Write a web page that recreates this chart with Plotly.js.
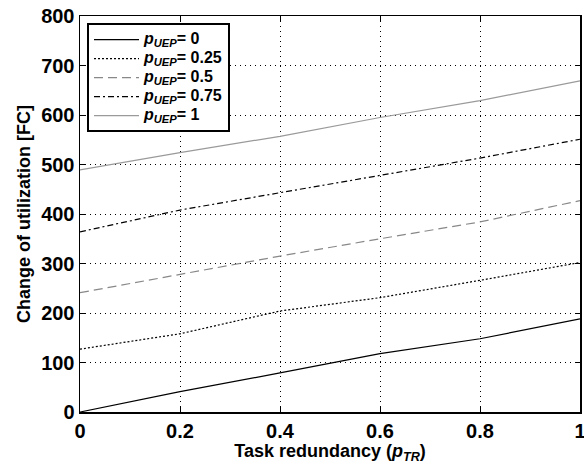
<!DOCTYPE html>
<html>
<head>
<meta charset="utf-8">
<script src="https://cdn.plot.ly/plotly-3.0.1.min.js"></script>
<style>html,body{margin:0;padding:0;background:#fff;}#chart{width:584px;height:471px;}</style>
</head>
<body>
<div id="chart"></div>
<script>
var taskRedundancy = [0, 0.2, 0.4, 0.6, 0.8, 1];
var pUEP0   = [0, 41, 79, 118, 148, 188];
var pUEP025 = [127, 158, 204, 231, 266, 302];
var pUEP05  = [241, 278, 315, 350, 384, 427];
var pUEP075 = [364, 408, 443, 478, 513, 551];
var pUEP1   = [489, 524, 557, 595, 629, 669];
var seriesNames = ['0', '0.25', '0.5', '0.75', '1'];
var seriesValues = [pUEP0, pUEP025, pUEP05, pUEP075, pUEP1];
var xTickLabels = ['0', '0.2', '0.4', '0.6', '0.8', '1'];
var yTickValues = [0, 100, 200, 300, 400, 500, 600, 700, 800];
var seriesColors = ['#000000', '#000000', '#888888', '#000000', '#9a9a9a'];
var seriesDash = ['solid', '2px,2px', '9px,5px', '6px,3px,2px,3px', 'solid'];

var FONT = 'Liberation Sans, Arial, sans-serif';

var traces = seriesValues.map(function (vals, i) {
  return {
    x: taskRedundancy,
    y: vals,
    type: 'scatter',
    mode: 'lines',
    name: '<span style="font-size:16px"><b><i>p</i><sub><i>UEP</i></sub>= ' + seriesNames[i] + '</b></span>',
    line: {color: seriesColors[i], width: 1.2, dash: seriesDash[i]}
  };
});

var axisCommon = {
  showline: true, linecolor: '#000', linewidth: 1.5, mirror: 'ticks',
  ticks: 'inside', ticklen: 5, tickcolor: '#000', tickwidth: 1,
  showgrid: true, gridcolor: '#000', gridwidth: 1, griddash: '1px,4px',
  zeroline: false, ticklabeloverflow: 'allow',
  tickfont: {family: FONT, size: 20, color: '#000', weight: 'bold'}
};

var layout = {
  width: 584, height: 471,
  margin: {l: 80, r: 4, t: 16, b: 59},
  paper_bgcolor: '#fff', plot_bgcolor: '#fff',
  showlegend: true,
  legend: {
    x: 0.014, y: 0.982, xanchor: 'left', yanchor: 'top',
    bgcolor: '#fff', bordercolor: '#000', borderwidth: 2,
    font: {family: FONT, size: 10, color: '#000'},
    tracegroupgap: 0, itemwidth: 45
  },
  xaxis: Object.assign({}, axisCommon, {
    range: [0, 1], tickvals: taskRedundancy,
    ticktext: xTickLabels,
    title: {text: 'Task redundancy (<i>p</i><sub><i>TR</i></sub>)', standoff: 4,
      font: {family: FONT, size: 18, color: '#000', weight: 'bold'}}
  }),
  yaxis: Object.assign({}, axisCommon, {
    range: [0, 800], tickvals: yTickValues,
    title: {text: 'Change of utilization [FC]', standoff: 6,
      font: {family: FONT, size: 18, color: '#000', weight: 'bold'}}
  })
};

Plotly.newPlot('chart', traces, layout, {displayModeBar: false, staticPlot: true});
</script>
</body>
</html>
